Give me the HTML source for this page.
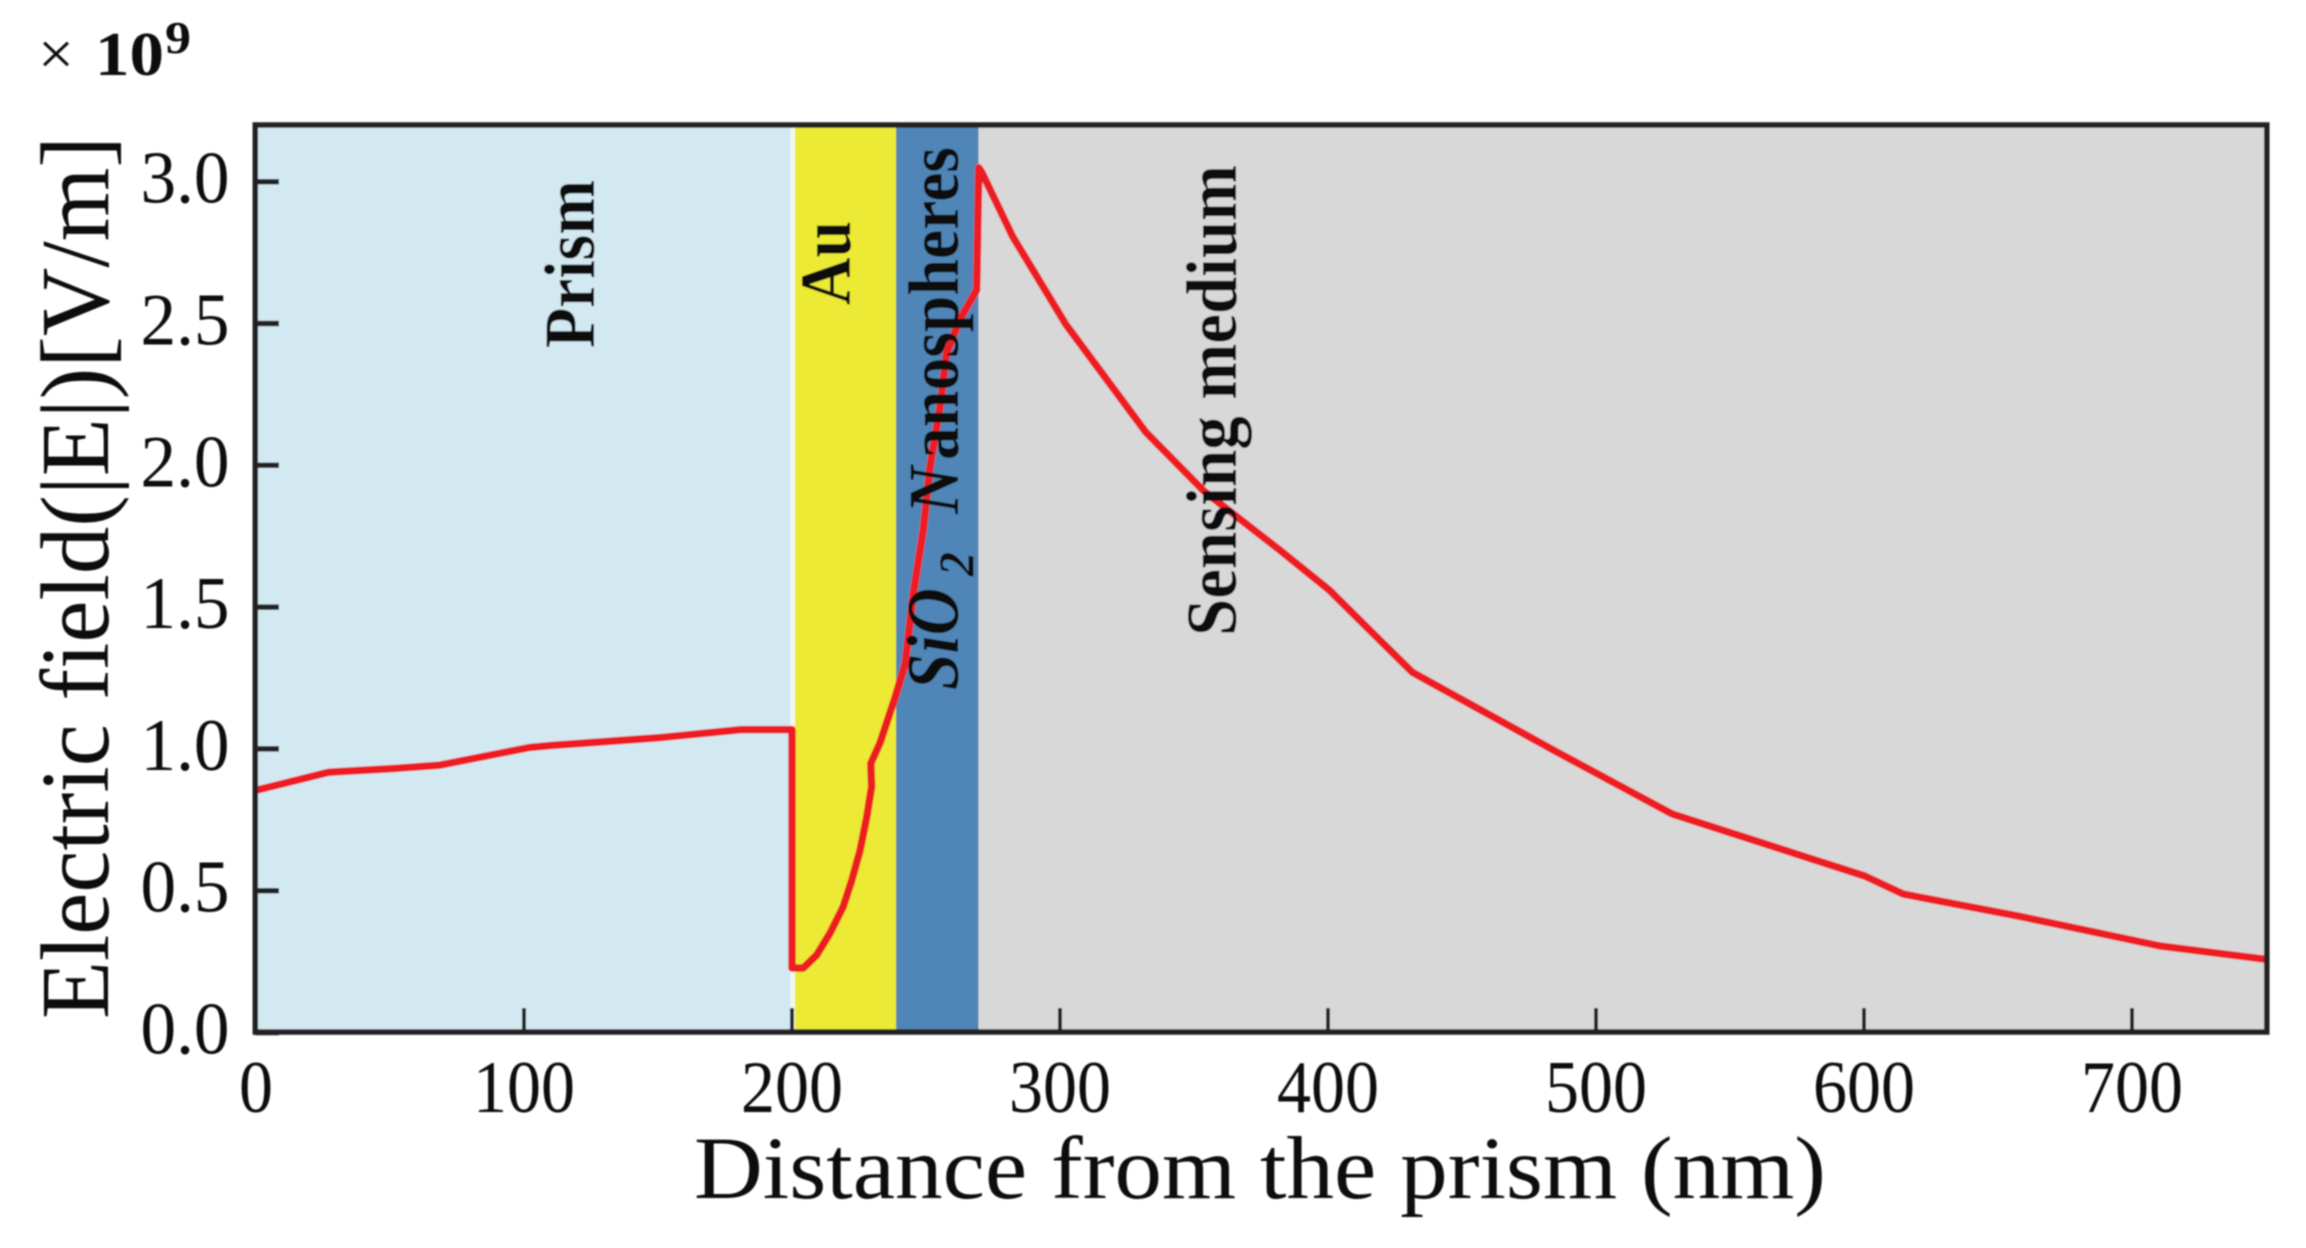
<!DOCTYPE html>
<html lang="en">
<head>
<meta charset="utf-8">
<title>Electric field vs distance from the prism</title>
<style>
html,body{margin:0;padding:0;background:#fff;width:2306px;height:1248px;overflow:hidden}
svg{display:block}
text{font-family:"Liberation Serif",serif;fill:#111}
</style>
</head>
<body>
<svg id="chart" xmlns="http://www.w3.org/2000/svg" width="2306" height="1248" viewBox="0 0 2306 1248">
  <defs><filter id="soft" x="-5%" y="-5%" width="110%" height="110%"><feGaussianBlur stdDeviation="0.9"/></filter></defs>
  <g id="root" filter="url(#soft)">
    <g id="regions"></g>
    <path id="curve" fill="none" stroke="#ed1c24" stroke-width="7.5" stroke-linejoin="round"/>
    <g id="layer-labels">
      <text transform="translate(594,348) rotate(-90)" font-size="72" font-weight="bold" textLength="168" lengthAdjust="spacingAndGlyphs">Prism</text>
      <text transform="translate(850,305) rotate(-90)" font-size="72" font-weight="bold" textLength="84" lengthAdjust="spacingAndGlyphs">Au</text>
      <text transform="translate(958,690) rotate(-90)" font-size="74" font-weight="bold" font-style="italic" textLength="102" lengthAdjust="spacingAndGlyphs">SiO</text>
      <text transform="translate(973,576) rotate(-90)" font-size="50" font-weight="bold" font-style="italic" textLength="24" lengthAdjust="spacingAndGlyphs">2</text>
      <text transform="translate(958,514) rotate(-90)" font-size="72" font-style="italic" font-weight="bold" textLength="48" lengthAdjust="spacingAndGlyphs">N</text>
      <text transform="translate(958,460) rotate(-90)" font-size="72" font-weight="bold" textLength="313" lengthAdjust="spacingAndGlyphs">anospheres</text>
      <text transform="translate(1236,636) rotate(-90)" font-size="72" font-weight="bold" textLength="471" lengthAdjust="spacingAndGlyphs">Sensing medium</text>
    </g>
    <g id="ticks"></g>
    <rect x="255.3" y="125" width="2011.5" height="907" fill="none" stroke="#222" stroke-width="5.5"/>
    <g id="tick-labels"></g>
    <text transform="translate(108,1019) rotate(-90)" font-size="98" textLength="883" lengthAdjust="spacingAndGlyphs">Electric field(|E|)[V/m]</text>
    <text x="694" y="1198" font-size="89" textLength="1132" lengthAdjust="spacingAndGlyphs">Distance from the prism (nm)</text>
    <text x="38" y="74" font-size="60" textLength="36" lengthAdjust="spacingAndGlyphs">×</text>
    <text x="95" y="75" font-size="62" font-weight="bold" textLength="69" lengthAdjust="spacingAndGlyphs">10</text>
    <text x="165" y="53" font-size="46" font-weight="bold" textLength="26" lengthAdjust="spacingAndGlyphs">9</text>
  </g>
</svg>
<script>
var xTicks = [0, 100, 200, 300, 400, 500, 600, 700];
var yTicks = [0.0, 0.5, 1.0, 1.5, 2.0, 2.5, 3.0];
var layerNames = ["prism", "gold", "nanospheres", "sensing-medium"];
var layerEdges = [0, 200, 238.8, 269.6, 750];
var layerColors = ["#d3e9f2", "#ecea34", "#5086b7", "#d8d8d8"];
var distanceNm = [0, 27, 50, 68.7, 102, 110, 150, 181, 200, 200, 204.2, 209.2, 214.2, 219.1, 222.3, 225.4, 227.9, 229.7, 229.4, 232.8, 238.4, 242.2, 245.3, 249, 251.5, 255.2, 257.7, 262.7, 268.9, 269.4, 269.7, 271, 282.3, 302.3, 332, 353.7, 382, 400.5, 417, 431.5, 485.4, 528.5, 600.3, 614.7, 657.8, 710.5, 750];
var fieldValue = [0.854, 0.9175, 0.93, 0.943, 1.005, 1.012, 1.039, 1.068, 1.068, 0.2274, 0.2274, 0.2733, 0.351, 0.4436, 0.537, 0.643, 0.761, 0.867, 0.949, 1.02, 1.18, 1.298, 1.55, 1.773, 1.995, 2.203, 2.396, 2.515, 2.618, 2.886, 3.049, 3.03, 2.807, 2.495, 2.117, 1.909, 1.701, 1.56, 1.405, 1.27, 0.989, 0.77, 0.552, 0.488, 0.41, 0.305, 0.258];

var NS = "http://www.w3.org/2000/svg";
function sx(v) { return 256 + v * 2.68; }
function sy(v) { return 1032.5 - v * 283.6; }
function mk(tag, parent, attrs) {
  var el = document.createElementNS(NS, tag);
  for (var k in attrs) { el.setAttribute(k, attrs[k]); }
  parent.appendChild(el);
  return el;
}

var regions = document.getElementById("regions");
layerNames.forEach(function (name, i) {
  var r = mk("rect", regions, { x: sx(layerEdges[i]), y: 125, width: sx(layerEdges[i + 1]) - sx(layerEdges[i]), height: 907, fill: layerColors[i] });
  
  
});
var seam = mk("rect", regions, { x: sx(200) - 1.5, y: 125, width: 4.5, height: 907, fill: "#f4f8ee" });



var d = distanceNm.map(function (x, i) { return (i ? "L" : "M") + sx(x).toFixed(1) + " " + sy(fieldValue[i]).toFixed(1); }).join(" ");
document.getElementById("curve").setAttribute("d", d);

var ticks = document.getElementById("ticks");
var labels = document.getElementById("tick-labels");
xTicks.forEach(function (v) {
  var t = mk("line", ticks, { x1: sx(v), x2: sx(v), y1: 1008, y2: 1032, stroke: "#222", "stroke-width": 4 });
  
  
  var l = mk("text", labels, { x: sx(v), y: 1112, "font-size": 74, "text-anchor": "middle", textLength: String(v).length * 34, lengthAdjust: "spacingAndGlyphs" });
  l.textContent = String(v);
  
  
});
yTicks.forEach(function (v) {
  var t = mk("line", ticks, { x1: 255, x2: 279, y1: sy(v), y2: sy(v), stroke: "#222", "stroke-width": 5.5 });
  
  
  var l = mk("text", labels, { x: 185, y: sy(v) + 21, "font-size": 74, "text-anchor": "middle", textLength: 89, lengthAdjust: "spacingAndGlyphs" });
  l.textContent = v.toFixed(1);
  
  
});
</script>
</body>
</html>
